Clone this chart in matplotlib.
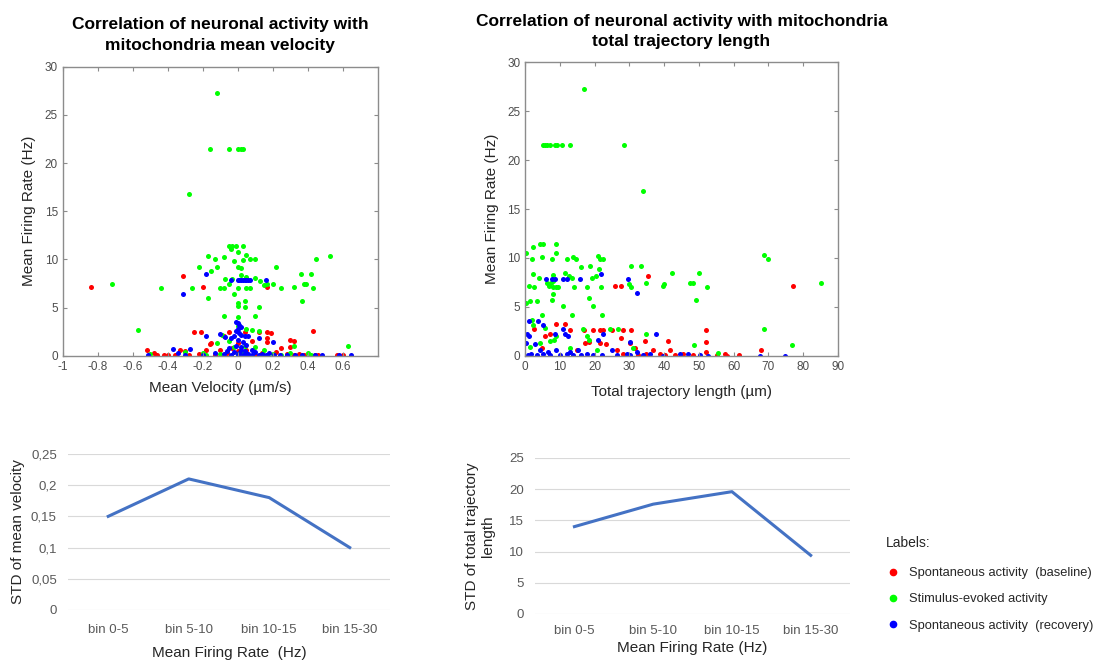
import matplotlib
matplotlib.use('Agg')
import matplotlib.pyplot as plt
from matplotlib.lines import Line2D
from matplotlib.ticker import FuncFormatter

plt.rcParams['font.family'] = ['Liberation Sans', 'DejaVu Sans']

RED = '#ff0000'
GREEN = '#00ff00'
BLUE = '#0000ff'
LINE_BLUE = '#4472c4'
AX_GRAY = '#8c8c8c'
TXT = '#262626'

# ─── scatter 1: mean velocity (µm/s) vs mean firing rate (Hz) ───
vel_red_x = [-0.84, -0.31, -0.2, 0.17, -0.25, -0.21, -0.05, 0.04, 0.12, 0.17, 0.19, 0.43, -0.15, -0.16,
             -0.08, 0.0, 0.08, 0.17, 0.17, 0.3, 0.32, 0.3, -0.52, -0.48, -0.46, -0.42, -0.4, -0.36, -0.33,
             -0.3, -0.28, -0.22, -0.18, -0.13, -0.1, -0.06, 0.0, 0.05, 0.1, 0.14, 0.22, 0.25, 0.28, 0.32,
             0.35, 0.38, 0.44, 0.46, 0.57, 0.6, -0.03]
vel_red_y = [7.1, 8.3, 7.1, 7.1, 2.5, 2.5, 2.5, 2.5, 2.5, 2.5, 2.4, 2.6, 1.3, 1.2,
             2.0, 1.3, 1.5, 1.8, 1.4, 1.6, 1.5, 0.9, 0.6, 0.3, 0.1, 0.1, 0.05, 0.1, 0.6,
             0.5, 0.1, 0.2, 0.6, 0.1, 0.6, 0.3, 0.5, 0.6, 0.1, 0.3, 0.4, 0.8, 0.2, 0.1,
             0.2, 0.1, 0.05, 0.1, 0.05, 0.05, 0.8]

vel_green_x = [-0.12, -0.16, -0.05, 0.0, 0.02, 0.03, -0.28, -0.05, -0.03, -0.01, 0.03, -0.04, 0.0, -0.17,
               -0.13, -0.08, 0.05, 0.1, 0.07, 0.03, -0.02, -0.22, 0.0, 0.02, 0.22, 0.45, 0.53, -0.07,
               -0.03, 0.02, 0.05, -0.15, -0.12, 0.1, 0.13, 0.36, 0.42, 0.39, 0.38, -0.72, -0.44, -0.26,
               -0.05, -0.08, -0.1, 0.0, 0.05, 0.07, 0.15, 0.17, 0.2, 0.25, 0.32, 0.43, -0.02, -0.17,
               0.37, 0.0, 0.0, 0.04, 0.04, 0.12, -0.08, 0.1, 0.0, -0.57, 0.63, 0.0, 0.05, 0.08, 0.12,
               -0.09, -0.12, -0.05, -0.02, 0.04, 0.1, 0.15, 0.32, -0.2, -0.3, -0.18, -0.1, 0.0, 0.02,
               0.05, 0.2, 0.25, 0.3, 0.42, 0.4, -0.5]
vel_green_y = [27.3, 21.5, 21.5, 21.5, 21.5, 21.5, 16.8, 11.4, 11.4, 11.4, 11.4, 11.1, 10.8, 10.3,
               10.0, 10.2, 10.5, 10.0, 10.0, 9.9, 9.8, 9.2, 9.2, 9.1, 9.2, 10.0, 10.3, 8.0,
               8.0, 8.4, 8.2, 8.8, 9.2, 8.1, 7.8, 8.5, 8.5, 7.4, 7.4, 7.4, 7.0, 7.0,
               7.4, 7.0, 7.0, 7.0, 7.0, 7.0, 7.3, 7.4, 7.4, 7.0, 7.1, 7.0, 6.4, 6.0,
               5.7, 5.5, 5.2, 5.7, 5.1, 5.1, 4.1, 4.1, 4.0, 2.7, 1.0, 3.1, 2.8, 2.7, 2.6,
               2.2, 1.3, 1.5, 0.9, 1.0, 0.9, 0.6, 1.0, 0.3, 0.4, 0.1, 0.2, 0.2, 0.4,
               0.1, 0.2, 0.1, 0.3, 0.1, 0.3, 0.2]

vel_blue_x = [-0.31, -0.18, 0.0, 0.01, 0.02, 0.03, 0.04, 0.05, 0.06, 0.07, -0.04, 0.16, -0.01, 0.0,
              0.01, 0.02, 0.0, -0.01, 0.01, 0.02, 0.04, 0.06, -0.02, -0.04, -0.07, -0.18, -0.1, 0.0,
              0.03, 0.05, 0.12, 0.2, -0.05, 0.02, 0.08, -0.37, -0.34, -0.27, -0.51, -0.3, -0.2, -0.13,
              -0.08, -0.04, -0.02, 0.0, 0.01, 0.03, 0.04, 0.06, 0.08, 0.1, 0.12, 0.14, 0.16, 0.18,
              0.21, 0.24, 0.28, 0.33, 0.37, 0.44, 0.48, 0.58, 0.65, -0.06, 0.02, -0.01, 0.05]
vel_blue_y = [6.4, 8.5, 7.9, 7.9, 7.9, 7.9, 7.9, 7.9, 7.9, 7.9, 7.9, 7.9, 3.5, 3.4,
              3.2, 3.0, 2.8, 2.6, 2.4, 2.2, 2.1, 2.0, 2.0, 1.8, 1.9, 2.1, 2.3, 1.6,
              1.4, 1.1, 1.8, 1.4, 0.8, 0.9, 0.6, 0.7, 0.3, 0.7, 0.05, 0.1, 0.1, 0.3,
              0.2, 0.1, 0.4, 0.05, 0.3, 0.1, 0.5, 0.2, 0.1, 0.4, 0.1, 0.2, 0.05, 0.3,
              0.1, 0.05, 0.1, 0.05, 0.1, 0.05, 0.05, 0.05, 0.05, 0.5, 0.6, 1.0, 0.3]

# ─── scatter 2: total trajectory length (µm) vs mean firing rate (Hz) ───
len_red_x = [35.4, 26.0, 27.5, 77.0, 21.5, 22.5, 24.9, 28.2, 30.6, 19.4, 16.9, 12.9, 11.4, 9.0,
             2.5, 52.0, 52.0, 17.2, 18.4, 21.5, 23.4, 27.5, 30.2, 31.6, 34.5, 36.9, 38.8, 41.2,
             41.7, 40.2, 43.1, 45.5, 48.4, 52.2, 55.1, 57.5, 58.0, 61.7, 68.0, 5.7, 7.1, 4.7,
             14.8, 26.3, 28.2, 34.9, 32.6]
len_red_y = [8.2, 7.1, 7.1, 7.1, 2.6, 2.6, 2.6, 2.6, 2.6, 2.6, 2.6, 2.6, 3.2, 3.2,
             2.7, 2.6, 1.4, 1.3, 1.4, 1.3, 1.2, 1.8, 1.3, 0.8, 1.5, 0.6, 0.2, 1.5,
             0.6, 0.05, 0.05, 0.2, 0.05, 0.4, 0.05, 0.2, 0.0, 0.05, 0.6, 2.0, 2.2, 0.8,
             0.6, 0.6, 0.2, 0.2, 0.05]

len_green_x = [16.9, 5.0, 5.7, 6.4, 7.1, 8.5, 9.2, 10.5, 12.9, 28.4, 33.8, 0.1, 2.3, 4.2, 5.2, 9.0,
               8.8, 2.0, 4.9, 7.7, 12.1, 13.8, 14.5, 16.0, 18.6, 21.1, 21.5, 22.3, 30.6, 33.4, 42.4,
               50.0, 68.7, 70.0, 85.1, 1.2, 2.5, 6.4, 6.9, 7.4, 8.1, 7.9, 8.8, 9.5, 2.3, 4.0,
               8.1, 11.4, 12.7, 13.6, 14.1, 17.7, 19.1, 20.3, 21.3, 21.9, 30.0, 30.5, 34.8, 39.8,
               40.0, 47.6, 48.4, 52.4, 49.2, 0.1, 1.3, 3.3, 7.7, 7.9, 10.8, 19.6, 18.4, 4.8, 13.4,
               22.0, 68.7, 76.9, 48.7, 2.0, 2.3, 5.7, 8.3, 9.0, 7.1, 16.7, 17.7, 18.4, 24.4, 26.8,
               34.8, 31.1, 20.6, 12.9, 4.2, 55.6, 1.3]
len_green_y = [27.3, 21.5, 21.5, 21.5, 21.5, 21.5, 21.5, 21.5, 21.5, 21.5, 16.8, 10.5, 11.1, 11.4, 11.4, 11.4,
               10.5, 9.9, 10.1, 9.9, 9.9, 10.1, 9.9, 9.1, 9.2, 10.2, 9.9, 9.9, 9.2, 9.2, 8.5,
               8.5, 10.3, 9.9, 7.4, 7.1, 7.0, 7.4, 7.1, 7.4, 7.6, 7.0, 7.0, 7.0, 8.4, 7.9,
               8.3, 8.5, 8.2, 8.0, 7.0, 7.0, 7.9, 8.2, 8.9, 7.0, 7.3, 7.0, 7.4, 7.1,
               7.3, 7.4, 7.4, 7.0, 5.7, 5.4, 5.6, 5.6, 5.7, 6.3, 5.1, 5.1, 5.9, 4.2, 4.2,
               4.2, 2.7, 1.1, 1.1, 3.7, 3.1, 2.8, 1.6, 2.0, 1.5, 2.7, 2.0, 1.6, 2.7, 2.7,
               2.2, 0.8, 0.6, 0.8, 1.3, 0.3, 0.9]

len_blue_x = [6.0, 7.6, 8.6, 11.0, 11.9, 15.9, 21.8, 29.6, 32.3, 1.1, 3.8, 5.2, 0.4, 1.1, 0.1, 2.9,
              8.6, 11.0, 11.4, 12.4, 21.0, 22.5, 30.2, 37.8, 44.6, 47.0, 50.3, 52.7, 67.6, 74.8,
              4.2, 6.6, 9.0, 12.9, 15.3, 17.7, 24.9, 29.2, 32.1, 0.9, 1.8, 3.3, 5.2, 7.1, 10.0,
              11.9, 13.8, 16.2, 19.6, 22.0, 26.3, 30.2, 34.0, 36.0, 39.8]
len_blue_y = [7.8, 7.8, 7.8, 7.8, 7.8, 7.8, 8.4, 7.8, 6.4, 3.6, 3.6, 3.1, 2.2, 2.0, 1.3, 1.2,
              2.2, 2.7, 2.2, 2.0, 1.6, 2.2, 1.4, 2.2, 0.2, 0.2, 0.05, 0.0, 0.0, 0.0,
              0.6, 0.4, 0.6, 0.4, 0.6, 0.2, 0.6, 0.2, 0.4, 0.05, 0.2, 0.05, 0.2, 0.05, 0.05,
              0.2, 0.05, 0.05, 0.05, 0.05, 0.05, 0.05, 0.05, 0.2, 0.0]

# ─── binned STD line charts ───
bins = ['bin 0-5', 'bin 5-10', 'bin 10-15', 'bin 15-30']
std_velocity = [0.15, 0.21, 0.18, 0.10]
std_length = [14.0, 17.6, 19.6, 9.4]

legend_labels = ['Spontaneous activity  (baseline)', 'Stimulus-evoked activity',
                 'Spontaneous activity  (recovery)']

fig = plt.figure(figsize=(11, 6.6), dpi=100)


def style_scatter(ax):
    for s in ax.spines.values():
        s.set_color(AX_GRAY)
        s.set_linewidth(1.0)
    ax.tick_params(direction='in', top=True, right=True, length=3, width=0.8,
                   color=AX_GRAY, labelcolor='#4d4d4d', labelsize=8.5)


ms = 13
ax1 = fig.add_axes([0.057, 0.461, 0.2864, 0.438])
ax1.scatter(vel_red_x, vel_red_y, s=ms, color=RED, lw=0)
ax1.scatter(vel_green_x, vel_green_y, s=ms, color=GREEN, lw=0)
ax1.scatter(vel_blue_x, vel_blue_y, s=ms, color=BLUE, lw=0)
ax1.set_xlim(-1, 0.8)
ax1.set_ylim(0, 30)
ax1.set_xticks([-1, -0.8, -0.6, -0.4, -0.2, 0, 0.2, 0.4, 0.6])
ax1.set_xticklabels(['-1', '-0.8', '-0.6', '-0.4', '-0.2', '0', '0.2', '0.4', '0.6'])
ax1.set_yticks(range(0, 31, 5))
style_scatter(ax1)
ax1.set_xlabel('Mean Velocity (µm/s)', fontsize=11, color=TXT, labelpad=6)
ax1.set_ylabel('Mean Firing Rate (Hz)', fontsize=11, color=TXT, labelpad=6)
ax1.set_title('Correlation of neuronal activity with\nmitochondria mean velocity',
              fontsize=12.5, fontweight='bold', color='black', pad=12, linespacing=1.5)

ax2 = fig.add_axes([0.4775, 0.461, 0.284, 0.4445])
ax2.scatter(len_red_x, len_red_y, s=ms, color=RED, lw=0)
ax2.scatter(len_green_x, len_green_y, s=ms, color=GREEN, lw=0)
ax2.scatter(len_blue_x, len_blue_y, s=ms, color=BLUE, lw=0)
ax2.set_xlim(0, 90)
ax2.set_ylim(0, 30)
ax2.set_xticks(range(0, 91, 10))
ax2.set_yticks(range(0, 31, 5))
style_scatter(ax2)
ax2.set_xlabel('Total trajectory length (µm)', fontsize=11, color=TXT, labelpad=9)
ax2.set_ylabel('Mean Firing Rate (Hz)', fontsize=11, color=TXT, labelpad=6)
ax2.set_title('Correlation of neuronal activity with mitochondria\ntotal trajectory length',
              fontsize=12.5, fontweight='bold', color='black', pad=12, linespacing=1.4)


def style_line(ax):
    for s in ax.spines.values():
        s.set_visible(False)
    ax.grid(axis='y', color='#d9d9d9', lw=0.8)
    ax.set_axisbelow(True)
    ax.tick_params(length=0, labelcolor='#595959', labelsize=9.5, pad=8)
    ax.set_xlim(-0.5, 3.5)


ax3 = fig.add_axes([0.0618, 0.0758, 0.2927, 0.2364])
ax3.plot(range(len(bins)), std_velocity, color=LINE_BLUE, lw=2.2)
ax3.set_ylim(0, 0.25)
ax3.set_yticks([0, 0.05, 0.1, 0.15, 0.2, 0.25])
ax3.yaxis.set_major_formatter(FuncFormatter(lambda v, p: ('%g' % v).replace('.', ',')))
ax3.set_xticks(range(len(bins)))
ax3.set_xticklabels(bins)
style_line(ax3)
ax3.tick_params(axis='x', pad=10)
ax3.set_xlabel('Mean Firing Rate  (Hz)', fontsize=11, color=TXT, labelpad=7)
ax3.set_ylabel('STD of mean velocity', fontsize=11, color=TXT, labelpad=4)

ax4 = fig.add_axes([0.4864, 0.0697, 0.2864, 0.2364])
ax4.plot(range(len(bins)), std_length, color=LINE_BLUE, lw=2.2)
ax4.set_ylim(0, 25)
ax4.set_yticks(range(0, 26, 5))
ax4.set_xticks(range(len(bins)))
ax4.set_xticklabels(bins)
style_line(ax4)
ax4.set_xlabel('Mean Firing Rate (Hz)', fontsize=11, color=TXT, labelpad=3)
ax4.set_ylabel('STD of total trajectory\nlength', fontsize=11, color=TXT, labelpad=10)

handles = [Line2D([], [], ls='none', marker='o', ms=4.5, color=c, mec=c)
           for c in (RED, GREEN, BLUE)]
leg = fig.legend(handles, legend_labels, title='Labels:', loc='upper left',
                 bbox_to_anchor=(0.795, 0.205), frameon=False, fontsize=9.3,
                 title_fontsize=10, alignment='left', handletextpad=0.8,
                 labelspacing=1.1, handlelength=1.0)
for t in leg.get_texts():
    t.set_color(TXT)
leg.get_title().set_color(TXT)
leg._legend_box.sep = 12

plt.savefig('out.png', dpi=100)
plt.close()
